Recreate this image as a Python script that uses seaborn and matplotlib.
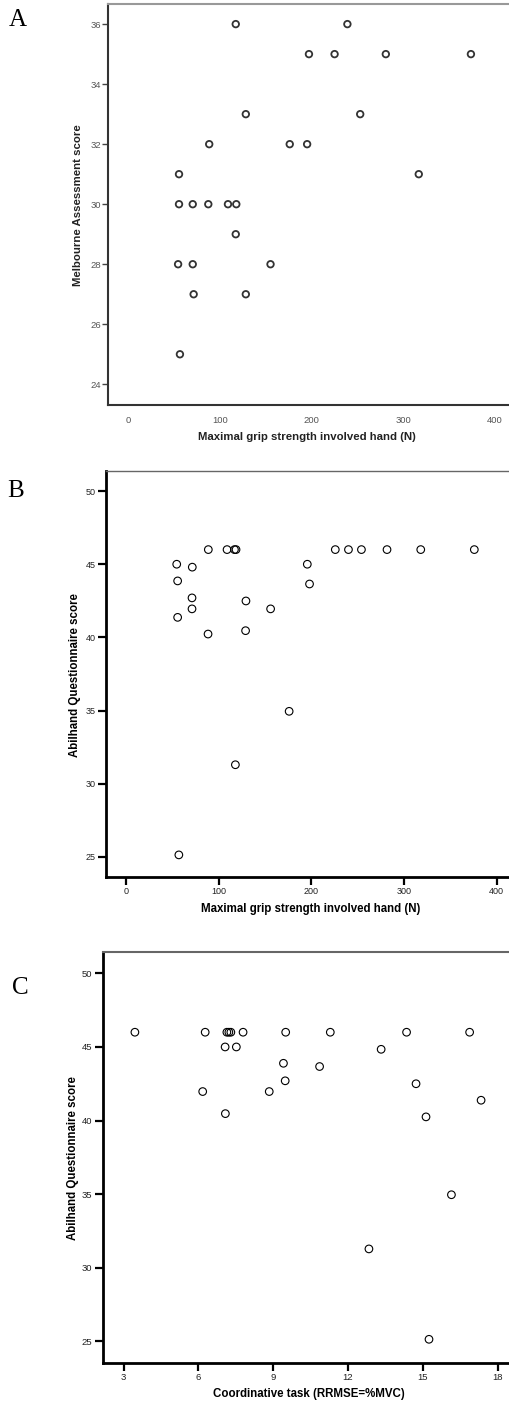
import matplotlib
matplotlib.use("Agg")
import matplotlib.pyplot as plt
import seaborn as sns

# Panel A: grip strength vs Melbourne Assessment
grip_a = [55, 88, 117, 128, 176, 195, 197, 225, 239, 253, 281, 317, 374,
          55, 70, 87, 108.5, 117.6, 117, 54, 70, 155, 71, 128, 56]
melbourne = [31, 32, 36, 33, 32, 32, 35, 35, 36, 33, 35, 31, 35,
             30, 30, 30, 30, 30, 29, 28, 28, 28, 27, 27, 25]

# Panel B: grip strength vs Abilhand
grip_b = [88.8, 109, 117, 118.7, 225.8, 240, 254, 281.6, 318, 375.8,
          54.7, 71.5, 55.7, 71.2, 71.2, 55.7, 88.5, 129.4, 129, 156,
          195.6, 198, 176, 118, 57]
abilhand_b = [46, 46, 46, 46, 46, 46, 46, 46, 46, 46,
              45, 44.8, 43.86, 42.7, 41.95, 41.37, 40.23, 42.49, 40.46, 41.95,
              45, 43.65, 34.95, 31.3, 25.14]

# Panel C: coordinative task error vs Abilhand
rrmse = [3.45, 6.27, 7.14, 7.22, 7.30, 7.79, 9.5, 11.29, 14.35, 16.88,
         7.07, 7.52, 13.33, 9.41, 10.86, 9.48, 14.73, 6.17, 8.84, 7.08,
         15.13, 17.34, 16.15, 12.84, 15.25]
abilhand_c = [46, 46, 46, 46, 46, 46, 46, 46, 46, 46,
              45, 45, 44.84, 43.89, 43.67, 42.7, 42.5, 41.97, 41.97, 40.47,
              40.25, 41.38, 34.96, 31.28, 25.14]

xticks_grip = [0, 100, 200, 300, 400]
yticks_melb = [24, 26, 28, 30, 32, 34, 36]
yticks_abil = [25, 30, 35, 40, 45, 50]
xticks_rrmse = [3, 6, 9, 12, 15, 18]

sns.set_style("white")
plt.rcParams["font.family"] = ["Liberation Sans", "DejaVu Sans"]

W, H = 510, 1402
fig = plt.figure(figsize=(W / 100, H / 100), dpi=100)


def axes_px(left, top, right, bottom):
    return fig.add_axes([left / W, 1 - bottom / H, (right - left) / W, (bottom - top) / H])


# ---------------- Panel A ----------------
axA = axes_px(108, 4, 510, 404.7)
sns.scatterplot(x=grip_a, y=melbourne, ax=axA, marker="o", s=22,
                facecolor="none", edgecolor="#333333", linewidth=1.3, legend=False)
axA.set_xlim(-22.6, 416.7)
axA.set_ylim(23.32, 36.67)
axA.set_xticks(xticks_grip)
axA.set_yticks(yticks_melb)
for side in ("left", "bottom"):
    axA.spines[side].set_color("#333333")
    axA.spines[side].set_linewidth(1.5)
axA.spines["top"].set_color("#999999")
axA.spines["top"].set_linewidth(1.5)
axA.spines["right"].set_visible(False)
axA.tick_params(axis="y", length=4, width=1, color="#444444", labelsize=6.8,
                labelcolor="#555555", pad=1, left=True)
axA.tick_params(axis="x", length=0, labelsize=6.8, labelcolor="#555555", pad=8, bottom=True)
axA.set_xlabel("Maximal grip strength involved hand (N)", fontsize=8.2, fontweight="bold",
               color="#222222", va="center")
axA.set_ylabel("Melbourne Assessment score", fontsize=8.2, fontweight="bold",
               color="#222222", va="center")
axA.xaxis.set_label_coords(0.494, -0.0806)
axA.yaxis.set_label_coords(-0.0746, 0.498)

# ---------------- Panel B ----------------
axB = axes_px(106, 471, 510, 876.7)
sns.scatterplot(x=grip_b, y=abilhand_b, ax=axB, marker="o", s=30,
                facecolor="none", edgecolor="black", linewidth=0.8, legend=False)
axB.set_xlim(-21.6, 414.3)
axB.set_ylim(23.65, 51.37)
axB.set_xticks(xticks_grip)
axB.set_yticks(yticks_abil)
for side in ("left", "bottom"):
    axB.spines[side].set_color("black")
    axB.spines[side].set_linewidth(2)
axB.spines["top"].set_color("#666666")
axB.spines["top"].set_linewidth(1)
axB.spines["right"].set_visible(False)
axB.tick_params(axis="both", length=6, width=1.6, color="black", labelsize=6.5,
                labelcolor="#222222", pad=1.5, left=True, bottom=True)
axB.set_xlabel("Maximal grip strength involved hand (N)", fontsize=8.3, fontweight="bold",
               color="black", va="center")
axB.set_ylabel("Abilhand Questionnaire score", fontsize=8.3, fontweight="bold",
               color="black", va="center")
axB.xaxis.set_label_coords(0.506, -0.0796)
axB.yaxis.set_label_coords(-0.0767, 0.497)

# ---------------- Panel C ----------------
axC = axes_px(102.7, 952.3, 510, 1362.7)
sns.scatterplot(x=rrmse, y=abilhand_c, ax=axC, marker="o", s=30,
                facecolor="none", edgecolor="black", linewidth=0.8, legend=False)
axC.set_xlim(2.158, 18.5)
axC.set_ylim(23.55, 51.43)
axC.set_xticks(xticks_rrmse)
axC.set_yticks(yticks_abil)
for side in ("left", "bottom"):
    axC.spines[side].set_color("black")
    axC.spines[side].set_linewidth(2)
axC.spines["top"].set_color("#666666")
axC.spines["top"].set_linewidth(1.5)
axC.spines["right"].set_visible(False)
axC.tick_params(axis="both", length=6, width=1.6, color="black", labelsize=6.8,
                labelcolor="#222222", pad=1.5, left=True, bottom=True)
axC.set_xlabel("Coordinative task (RRMSE=%MVC)", fontsize=8.3, fontweight="bold",
               color="black", va="center")
axC.set_ylabel("Abilhand Questionnaire score", fontsize=8.3, fontweight="bold",
               color="black", va="center")
axC.xaxis.set_label_coords(0.505, -0.0763)
axC.yaxis.set_label_coords(-0.0729, 0.499)

# Panel letters
for letter, (px, py) in {"A": (18, 20), "B": (16, 491), "C": (20, 988)}.items():
    fig.text(px / W, 1 - py / H, letter, fontsize=18, family="Liberation Serif",
             ha="center", va="center", color="black")

fig.savefig("out.png", dpi=100)
